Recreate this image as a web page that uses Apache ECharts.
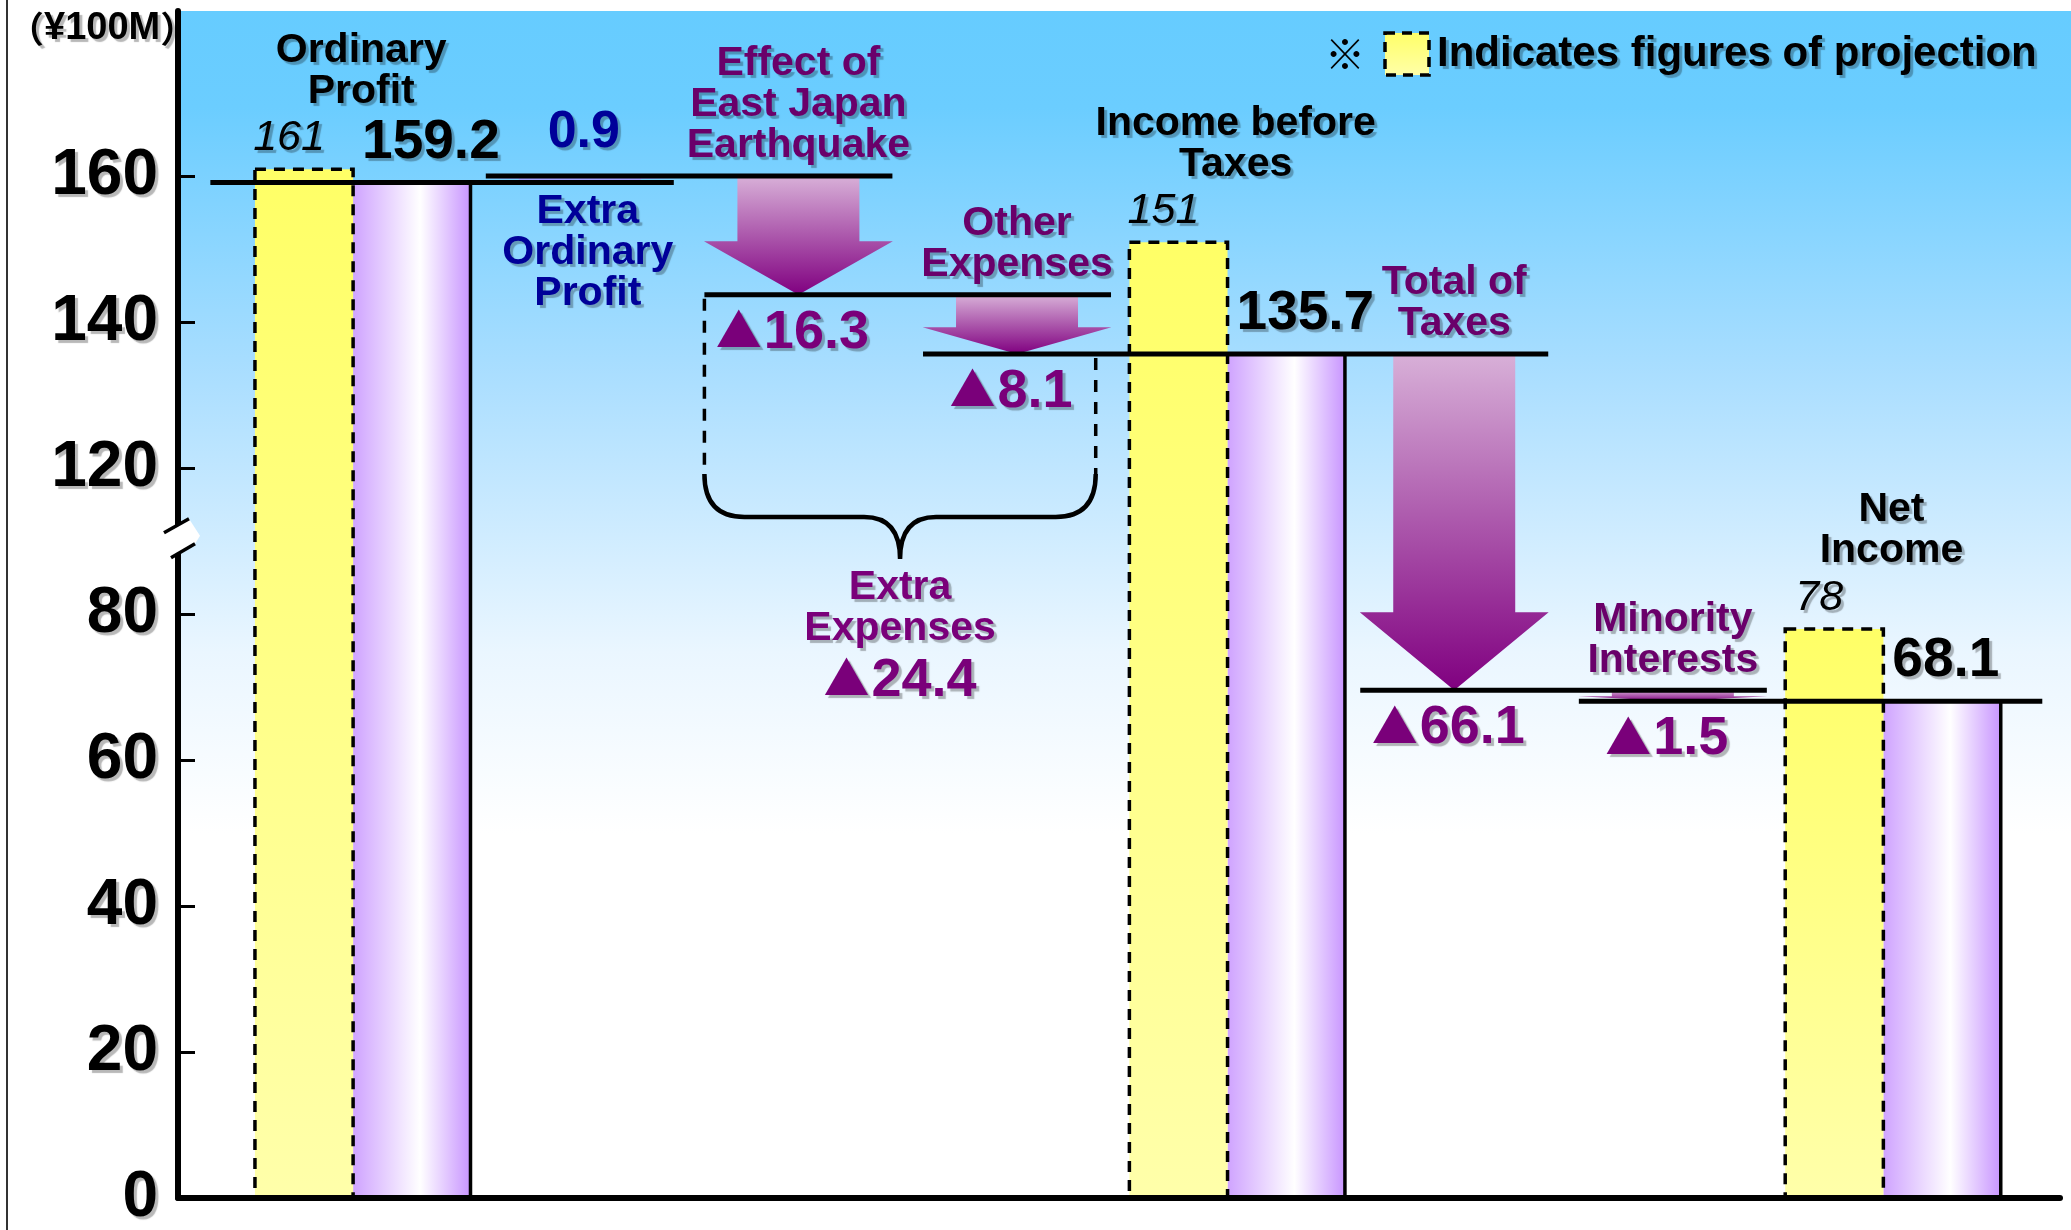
<!DOCTYPE html>
<html><head><meta charset="utf-8">
<script src="https://cdn.jsdelivr.net/npm/echarts@6/dist/echarts.min.js"></script>
<style>html,body{margin:0;padding:0;background:#fff;}#c{width:2071px;height:1230px;}</style>
</head><body><div id="c"></div>
<script>
// ---------------- data ----------------
const categories = ['Ordinary Profit', 'Extra Ordinary Profit', 'Effect of East Japan Earthquake', 'Other Expenses', 'Income before Taxes', 'Total of Taxes', 'Minority Interests', 'Net Income'];
const stepTitles = ['Ordinary\nProfit', 'Extra\nOrdinary\nProfit', 'Effect of\nEast Japan\nEarthquake', 'Other\nExpenses', 'Income before\nTaxes', 'Total of\nTaxes', 'Minority\nInterests', 'Net\nIncome'];
const projection = [161, null, null, null, 151, null, null, 78];
const actual = [159.2, null, null, null, 135.7, null, null, 68.1];
const changes = [null, 0.9, -16.3, -8.1, null, -66.1, -1.5, null];
const extraExpensesTitle = 'Extra\nExpenses';
const extraExpensesTotal = -24.4;
const extraExpenseSteps = [2, 3];
const yTickLabels = [0, 20, 40, 60, 80, 120, 140, 160];
const unitLabel = '¥100M';
const legendText = 'Indicates figures of projection';

// ---------------- helpers ----------------
// broken axis: 80 -> 120 compressed to one 20-unit step
function tv(v) { return v > 100 ? v - 20 : v; }
const tickT = yTickLabels.map(tv);
const FONT = '"Liberation Sans", Arial, sans-serif';
const CJK = '"Noto Sans CJK JP", sans-serif';
const SH = { textShadowColor: 'rgba(0,0,0,0.28)', textShadowOffsetX: 3, textShadowOffsetY: 3, textShadowBlur: 1 };
const PURPLE_TXT = '#6a006a';
const BLUE_TXT = '#000099';
const LH = 41;
function txt(text, x, y, font, fill, align, vAlign, rich) {
  const st = Object.assign({ text: text, x: x, y: y, font: font, fill: fill, align: align || 'center', verticalAlign: vAlign || 'middle', lineHeight: LH }, SH);
  if (rich) st.rich = rich;
  return { type: 'text', z2: 20, style: st };
}
// value text with a large solid triangle for negatives
function changeText(c, x, y, fill) {
  if (c < 0) {
    const rich = {
      t: Object.assign({ fontSize: 46, fontWeight: 'bold', fontFamily: CJK, fill: fill, verticalAlign: 'middle', lineHeight: 60, padding: [0, 2, 6, 0] }, SH),
      n: Object.assign({ fontSize: 54, fontWeight: 'bold', fontFamily: FONT, fill: fill, verticalAlign: 'middle', lineHeight: 60 }, SH)
    };
    return txt('{t|▲}{n|' + Math.abs(c) + '}', x, y, 'bold 54px ' + FONT, fill, 'center', 'middle', rich);
  }
  return txt(String(c), x, y, 'bold 52px ' + FONT, fill, 'center');
}
const yellowGrad = () => new echarts.graphic.LinearGradient(0, 0, 0, 1, [{ offset: 0, color: '#ffff66' }, { offset: 1, color: '#ffffaa' }]);
const purpleGrad = () => new echarts.graphic.LinearGradient(0, 0, 1, 0, [{ offset: 0, color: '#cfa3ff' }, { offset: 0.57, color: '#ffffff' }, { offset: 1, color: '#c895ff' }]);
const downGrad = () => new echarts.graphic.LinearGradient(0, 0, 0, 1, [{ offset: 0, color: '#d8b0d8' }, { offset: 1, color: '#800080' }]);
const upGrad = () => new echarts.graphic.LinearGradient(0, 0, 0, 1, [{ offset: 0, color: '#8a8aff' }, { offset: 1, color: '#b8b8ff' }]);

// running levels
const levels = [];
let cur = null;
for (let i = 0; i < categories.length; i++) {
  if (actual[i] != null) { levels.push({ before: actual[i], after: actual[i] }); cur = actual[i]; }
  else { const b = cur; cur = Math.round((cur + changes[i]) * 10) / 10; levels.push({ before: b, after: cur }); }
}
const isBar = i => actual[i] != null;
const leftExt = i => i - (isBar(i) ? 0.69 : 0.43);
const rightExt = i => i + (isBar(i) ? 0.69 : 0.43);
// horizontal level segments
const segMap = new Map();
levels.forEach((l, i) => {
  [l.before, l.after].forEach(v => {
    const k = v.toFixed(1);
    if (!segMap.has(k)) segMap.set(k, { v: v, a: i, b: i });
    const s = segMap.get(k); s.a = Math.min(s.a, i); s.b = Math.max(s.b, i);
  });
});
const segments = [];
segMap.forEach(s => segments.push([leftExt(s.a), rightExt(s.b), tv(s.v)]));

const actualData = actual.map((v, i) => v == null ? null : [i, tv(v), v]).filter(Boolean);
const projData = projection.map((v, i) => v == null ? null : [i, tv(v), v]).filter(Boolean);
const arrowData = changes.map((c, i) => c == null ? null : [i, tv(levels[i].before), tv(levels[i].after), c]).filter(Boolean);

const chart = echarts.init(document.getElementById('c'), null, { renderer: 'canvas' });

const option = {
  animation: false,
  backgroundColor: '#ffffff',
  grid: { left: 178, right: 11, top: 11, bottom: 12, containLabel: false },
  xAxis: {
    type: 'value', min: -0.838, max: 7.771, z: 10,
    axisLine: { show: true, onZero: false, lineStyle: { color: '#000', width: 6 } },
    axisTick: { show: false }, axisLabel: { show: false }, splitLine: { show: false }
  },
  yAxis: {
    type: 'value', min: 0, max: 162.7, interval: 20, z: 10,
    axisLine: { show: true, onZero: false, lineStyle: { color: '#000', width: 6 } },
    axisTick: { show: true, inside: true, length: 17, customValues: tickT, lineStyle: { color: '#000', width: 3 } },
    axisLabel: {
      customValues: tickT, margin: 20, padding: [0, 0, 12, 0],
      fontFamily: FONT, fontWeight: 'bold', fontSize: 64, color: '#000',
      textShadowColor: 'rgba(0,0,0,0.28)', textShadowOffsetX: 3, textShadowOffsetY: 3, textShadowBlur: 1,
      formatter: function (val) { const k = tickT.indexOf(Math.round(val)); return k >= 0 ? String(yTickLabels[k]) : ''; }
    },
    splitLine: { show: false }
  },
  graphic: [
    { type: 'rect', z: -100, silent: true, shape: { x: 178, y: 11, width: 1893, height: 1209 },
      style: { fill: new echarts.graphic.LinearGradient(0, 0, 0, 1, [
        { offset: 0, color: '#66ccff' }, { offset: 0.08, color: '#6bcdff' }, { offset: 0.3, color: '#aadeff' },
        { offset: 0.53, color: '#eaf6ff' }, { offset: 0.68, color: '#ffffff' }, { offset: 1, color: '#ffffff' }]) } },
    { type: 'line', z: 5, shape: { x1: 7, y1: 0, x2: 7, y2: 1230 }, style: { stroke: '#333', lineWidth: 2 } },
    { type: 'text', z: 5, style: Object.assign({
        text: '{p|（}{n|' + unitLabel + '}{p|）}', x: 8, y: 29, align: 'left', verticalAlign: 'middle',
        fontSize: 38, fontWeight: 'bold', fontFamily: FONT, fill: '#000',
        rich: {
          p: Object.assign({ fontSize: 36, fontWeight: 'bold', fontFamily: CJK, fill: '#000', verticalAlign: 'middle', lineHeight: 44 }, SH),
          n: Object.assign({ fontSize: 38, fontWeight: 'bold', fontFamily: FONT, fill: '#000', verticalAlign: 'middle', lineHeight: 44 }, SH)
        } }, SH) },
    { type: 'text', z: 5, style: { text: '※', x: 1345, y: 54, fontSize: 40, fontWeight: 'bold', fontFamily: CJK, fill: '#000', align: 'center', verticalAlign: 'middle' } },
    { type: 'rect', z: 5, shape: { x: 1385, y: 33, width: 44, height: 42 }, style: { fill: yellowGrad(), stroke: '#000', lineWidth: 3.5, lineDash: [10, 7] } },
    { type: 'text', z: 5, style: Object.assign({ text: legendText, x: 1437, y: 54, font: 'bold 42px ' + FONT, fill: '#000', align: 'left', verticalAlign: 'middle' }, SH) }
  ],
  series: [
    { // actual bars
      type: 'custom', name: 'Actual', data: actualData,
      renderItem: function (params, api) {
        const i = api.value(0), t = api.value(1), v = api.value(2);
        const U = api.size([1, 0])[0];
        const p = api.coord([i, t]), b = api.coord([i, 0]);
        const x0 = p[0] - 0.037 * U, x1 = p[0] + 0.5 * U;
        return { type: 'group', children: [
          { type: 'rect', shape: { x: x0, y: p[1], width: x1 - x0, height: b[1] - p[1] }, style: { fill: purpleGrad() } },
          { type: 'line', shape: { x1: x1, y1: p[1], x2: x1, y2: b[1] }, style: { stroke: '#000', lineWidth: 3.5 } },
          txt(String(v), x0 + 9, p[1] - 40, 'bold 55px ' + FONT, '#000', 'left')
        ] };
      }
    },
    { // projection bars
      type: 'custom', name: 'Projection', data: projData,
      renderItem: function (params, api) {
        const i = api.value(0), t = api.value(1), v = api.value(2);
        const U = api.size([1, 0])[0];
        const p = api.coord([i, t]), b = api.coord([i, 0]);
        const x0 = p[0] - 0.486 * U, x1 = p[0] - 0.037 * U;
        const labY = p[1] - 31;
        const title = stepTitles[i], n = title.split('\n').length;
        return { type: 'group', children: [
          { type: 'rect', shape: { x: x0, y: p[1], width: x1 - x0, height: b[1] - p[1] }, style: { fill: yellowGrad(), stroke: '#000', lineWidth: 3.5, lineDash: [11, 8] } },
          txt(String(v), (x0 + x1) / 2 - 15, labY, 'italic 43px ' + FONT, '#000', 'center'),
          txt(title, p[0], labY - 47 - (n - 1) * LH / 2, 'bold 41px ' + FONT, '#000', 'center')
        ] };
      }
    },
    { // change arrows
      type: 'custom', name: 'Change', data: arrowData,
      renderItem: function (params, api) {
        const i = api.value(0), tf = api.value(1), tt = api.value(2), c = api.value(3);
        const U = api.size([1, 0])[0];
        const pf = api.coord([i, tf]), pt = api.coord([i, tt]);
        const cx = pf[0], len = Math.abs(pt[1] - pf[1]), dir = pt[1] > pf[1] ? 1 : -1;
        const head = Math.min(0.45 * len, 78), hw = 0.432 * U, sw = 0.279 * U;
        const hy = pt[1] - dir * head;
        const pts = [[cx - sw, pf[1]], [cx + sw, pf[1]], [cx + sw, hy], [cx + hw, hy], [cx, pt[1]], [cx - hw, hy], [cx - sw, hy]];
        const title = stepTitles[i], n = title.split('\n').length;
        const children = [{ type: 'polygon', shape: { points: pts }, style: { fill: dir > 0 ? downGrad() : upGrad() } }];
        if (dir > 0) {
          children.push(txt(title, cx, pf[1] - 30 - (n - 1) * LH / 2, 'bold 41px ' + FONT, PURPLE_TXT, 'center'));
          children.push(changeText(c, cx - 6, pt[1] + 38, '#7a007a'));
        } else {
          children.push(txt(title, cx + 8, pf[1] + 29 + (n - 1) * LH / 2, 'bold 41px ' + FONT, BLUE_TXT, 'center'));
          children.push(changeText(c, cx + 4, pt[1] - 43, BLUE_TXT));
        }
        return { type: 'group', children: children };
      }
    },
    { // level lines
      type: 'custom', name: 'Levels', data: segments,
      renderItem: function (params, api) {
        const a = api.coord([api.value(0), api.value(2)]), b = api.coord([api.value(1), api.value(2)]);
        return { type: 'line', shape: { x1: a[0], y1: a[1], x2: b[0], y2: b[1] }, style: { stroke: '#000', lineWidth: 5 } };
      }
    },
    { // extra expenses brace
      type: 'custom', name: 'Extra Expenses', data: [[extraExpenseSteps[0], extraExpenseSteps[1], extraExpensesTotal]],
      renderItem: function (params, api) {
        const s0 = api.value(0), s1 = api.value(1), tot = api.value(2);
        const xl = api.coord([leftExt(s0), 0])[0], xr = api.coord([rightExt(s1) - 0.07, 0])[0];
        const yl = api.coord([0, tv(levels[s0].after)])[1];
        const yr = api.coord([0, tv(levels[s1].after)])[1];
        const yb = yr + 120, yh = yb + 43, yp = yb + 85;
        const xc = (xl + xr) / 2;
        const path = 'M' + xl + ' ' + yb + ' Q' + xl + ' ' + yh + ' ' + (xl + 40) + ' ' + yh +
          ' L' + (xc - 36) + ' ' + yh + ' Q' + xc + ' ' + yh + ' ' + xc + ' ' + yp +
          ' Q' + xc + ' ' + yh + ' ' + (xc + 36) + ' ' + yh +
          ' L' + (xr - 40) + ' ' + yh + ' Q' + xr + ' ' + yh + ' ' + xr + ' ' + yb;
        return { type: 'group', children: [
          { type: 'line', shape: { x1: xl, y1: yl + 4, x2: xl, y2: yb }, style: { stroke: '#000', lineWidth: 3.5, lineDash: [12, 10] } },
          { type: 'line', shape: { x1: xr, y1: yr + 4, x2: xr, y2: yb }, style: { stroke: '#000', lineWidth: 3.5, lineDash: [12, 10] } },
          { type: 'path', shape: { pathData: path }, style: { fill: null, stroke: '#000', lineWidth: 4.5 } },
          txt(extraExpensesTitle, xc, yp + 26 + LH / 2 + 3, 'bold 41px ' + FONT, '#7a007a', 'center'),
          changeText(tot, xc, yp + 122, '#7a007a')
        ] };
      }
    },
    { // axis break mark
      type: 'custom', name: 'Break', z: 20, data: [[0, 90.5]],
      renderItem: function (params, api) {
        const ax = params.coordSys.x;
        const yc = api.coord([0, api.value(1)])[1];
        return { type: 'group', children: [
          { type: 'polygon', shape: { points: [[ax - 14, yc - 5], [ax + 11, yc - 19], [ax + 22, yc - 2], [ax + 17, yc + 6], [ax - 7, yc + 20]] }, style: { fill: '#ffffff' } },
          { type: 'line', shape: { x1: ax - 14, y1: yc - 5, x2: ax + 11, y2: yc - 19 }, style: { stroke: '#000', lineWidth: 3.5 } },
          { type: 'line', shape: { x1: ax - 7, y1: yc + 20, x2: ax + 17, y2: yc + 6 }, style: { stroke: '#000', lineWidth: 3.5 } }
        ] };
      }
    }
  ]
};
chart.setOption(option);
</script>
</body></html>
